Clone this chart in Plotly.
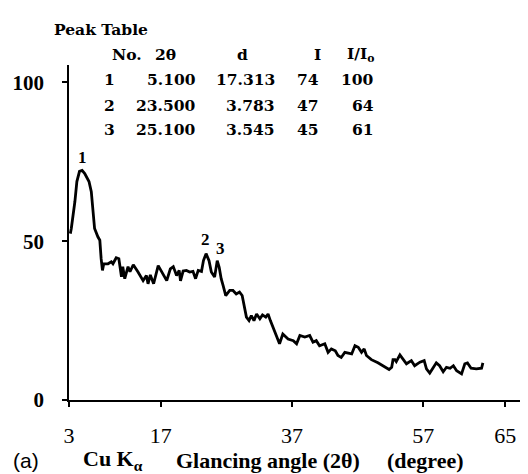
import plotly.graph_objects as go

# ---- data ----
two_theta_deg = [3.2, 3.35, 3.9, 4.2, 4.6, 5.0, 5.4, 6.05, 6.4, 6.8,
                 6.9, 7.4, 7.7, 7.9, 8.1, 8.3, 8.95, 9.45, 9.7, 10.2,
                 10.6, 11.0, 11.2, 11.5, 12.0, 12.3, 12.8, 13.5, 14.3, 14.8,
                 15.05, 15.4, 15.9, 16.6, 17.1, 17.6, 17.9, 18.45, 18.9, 19.4,
                 19.8, 20.0, 20.4,
                 20.9, 21.4, 21.9, 22.3, 22.7, 23.2, 23.5, 23.9, 24.35, 24.7,
                 25.2, 25.6, 25.9, 26.2, 26.5, 26.9, 27.5, 28.0, 28.5, 29.0,
                 29.4, 29.8, 30.05, 30.45, 30.8, 31.2, 31.6, 32.1, 32.5, 33.0,
                 33.35, 33.7, 34.2,
                 34.4, 35.1, 35.6, 36.4, 37.2, 37.7, 38.2, 38.95, 39.7, 40.2,
                 40.7, 41.2, 42.0, 42.5, 43.0, 43.6, 44.0, 44.5, 45.05, 45.55,
                 46.1, 46.6, 47.1, 47.6, 48.0, 48.35, 49.1, 50.1, 51.15, 51.8,
                 52.2, 52.4, 52.7, 52.9, 53.45, 53.95, 54.45, 55.2, 55.7, 56.5,
                 57.15, 57.5, 58.0, 58.4, 59.0, 59.5, 60.05, 60.55, 61.1, 61.6,
                 62.1, 62.85, 63.35, 63.75, 64.3, 65.1, 65.9, 66.1]
intensity = [52.4, 54, 62.5, 68.8, 72, 72.3, 71.3, 68.8, 65.6, 58,
             54, 51.4, 50.3, 44.5, 40.8, 42.9, 42.9, 43.5, 42.9, 44.8,
             44.5, 38.8, 42, 38.2, 42, 40.4, 42.6, 40.4, 37.6, 39.2,
             36.6, 39.4, 36.6, 42.3, 40.4, 38.8, 37.6, 41.3, 42, 39.2,
             40.8, 37.5, 40.6,
             40.8, 40.3, 40.5, 38.2, 40.8, 40.5, 43.9, 46.1, 43.9, 40.3,
             38.7, 43.9, 41.8, 38.2, 36, 32.9, 34.5, 34.5, 33.4, 34,
             32.9, 29.2, 26.1, 25, 26.6, 25, 27.1, 25.6, 26.8, 26.1,
             27.1, 25, 22.4,
             20.8, 17.7, 20.8, 19.2, 18.7, 17.7, 20.3, 19.8, 20.3, 18.2,
             18.7, 17.1, 17.7, 15, 16.1, 15.5, 14, 13.4, 15, 14.8,
             14.5, 17.1, 16.6, 15, 16.1, 14, 12.7, 11.7, 10.3, 9.6,
             10.3, 12.7, 12.7, 12.1, 14.2, 12.9, 11.4, 12.4, 10.8, 11.9,
             12.4, 9.8, 8.5, 9.8, 11.7, 10.8, 8.9, 10.3, 10, 10.8,
             9.2, 8.2, 11.4, 11.7, 10, 9.8, 10, 11.7]

peak_no = ["1", "2", "3"]
peak_two_theta = [5.100, 23.500, 25.100]
peak_d = [17.313, 3.783, 3.545]
peak_I = [74, 47, 45]
peak_rel = [100, 64, 61]

x_tick_labels = ["3", "17", "37", "57", "65"]
x_tick_vals = [3, 17, 37, 57, 69.5]
y_tick_vals = [0, 50, 100]

# ---- layout geometry (pixels) ----
W, H = 528, 474
L, R, T, B = 61, 0, 57, 82
PW, PH = W - L - R, H - T - B


def px(x):
    return (x - L) / PW


def py(y):
    return (H - B - y) / PH


fig = go.Figure()
fig.add_trace(go.Scatter(x=two_theta_deg, y=intensity, mode="lines",
                         line=dict(color="black", width=2.8),
                         hoverinfo="skip", showlegend=False))

ann = []
serif = "Liberation Serif"
tfont = dict(family="DejaVu Serif", size=15.5, color="black", weight="bold")

ann.append(dict(x=px(44), y=py(21), xref="paper", yref="paper", text="Peak Table",
                showarrow=False, xanchor="left", yanchor="middle", font=tfont))
headers = [("No.", 102, "left"), ("2θ", 157, "center"), ("d", 234, "center"),
           ("I", 309, "center"), ("I/I<sub>o</sub>", 352, "center")]
for txt, xx, anc in headers:
    ann.append(dict(x=px(xx), y=py(46), xref="paper", yref="paper", text=txt,
                    showarrow=False, xanchor=anc, yanchor="middle", font=tfont))
row_y = [71, 97, 121]
for i in range(len(peak_no)):
    cells = [(peak_no[i], 109), (f"{peak_two_theta[i]:.3f}", 190),
             (f"{peak_d[i]:.3f}", 269), (str(peak_I[i]), 313), (str(peak_rel[i]), 368)]
    for txt, xr in cells:
        ann.append(dict(x=px(xr), y=py(row_y[i]), xref="paper", yref="paper", text=txt,
                        showarrow=False, xanchor="right", yanchor="middle", font=tfont))

# peak labels on the curve
shifts = [(0, 8), (2, 11), (7, 9)]
for i in range(len(peak_no)):
    ann.append(dict(x=peak_two_theta[i], y=peak_I[i], xref="x", yref="y",
                    text=peak_no[i], showarrow=False, xanchor="center", yanchor="middle",
                    xshift=shifts[i][0], yshift=shifts[i][1],
                    font=dict(family=serif, size=17, color="black", weight="bold")))

# axis title
ty = 452
ann.append(dict(x=px(3), y=py(ty), xref="paper", yref="paper", text="(a)",
                showarrow=False, xanchor="left", yanchor="middle",
                font=dict(family="Liberation Sans", size=21, color="black")))
title_parts = [("Cu K<sub>α</sub>", 73), ("Glancing angle (2θ)", 166), ("(degree)", 377)]
for txt, xx in title_parts:
    ann.append(dict(x=px(xx), y=py(ty), xref="paper", yref="paper", text=txt,
                    showarrow=False, xanchor="left", yanchor="middle",
                    font=dict(family=serif, size=22, color="black", weight="bold")))

fig.update_layout(
    width=W, height=H,
    margin=dict(l=L, r=R, t=T, b=B, pad=0),
    paper_bgcolor="white", plot_bgcolor="white",
    annotations=ann,
    xaxis=dict(range=[3, 74.2], showgrid=False, zeroline=False, showline=True,
               linecolor="black", linewidth=1.5, ticks="outside", ticklen=5,
               tickcolor="black", tickwidth=1.5,
               tickvals=x_tick_vals, ticktext=x_tick_labels,
               tickfont=dict(family=serif, size=22, color="black"),
               ticklabelstandoff=10, fixedrange=True),
    yaxis=dict(range=[0, 105.5], showgrid=False, zeroline=False, showline=True,
               linecolor="black", linewidth=1.5, ticks="outside", ticklen=5,
               tickcolor="black", tickwidth=1.5, tickvals=y_tick_vals,
               tickfont=dict(family=serif, size=21, color="black", weight="bold"),
               ticklabelstandoff=14, fixedrange=True),
)

fig.write_html("out.html")
